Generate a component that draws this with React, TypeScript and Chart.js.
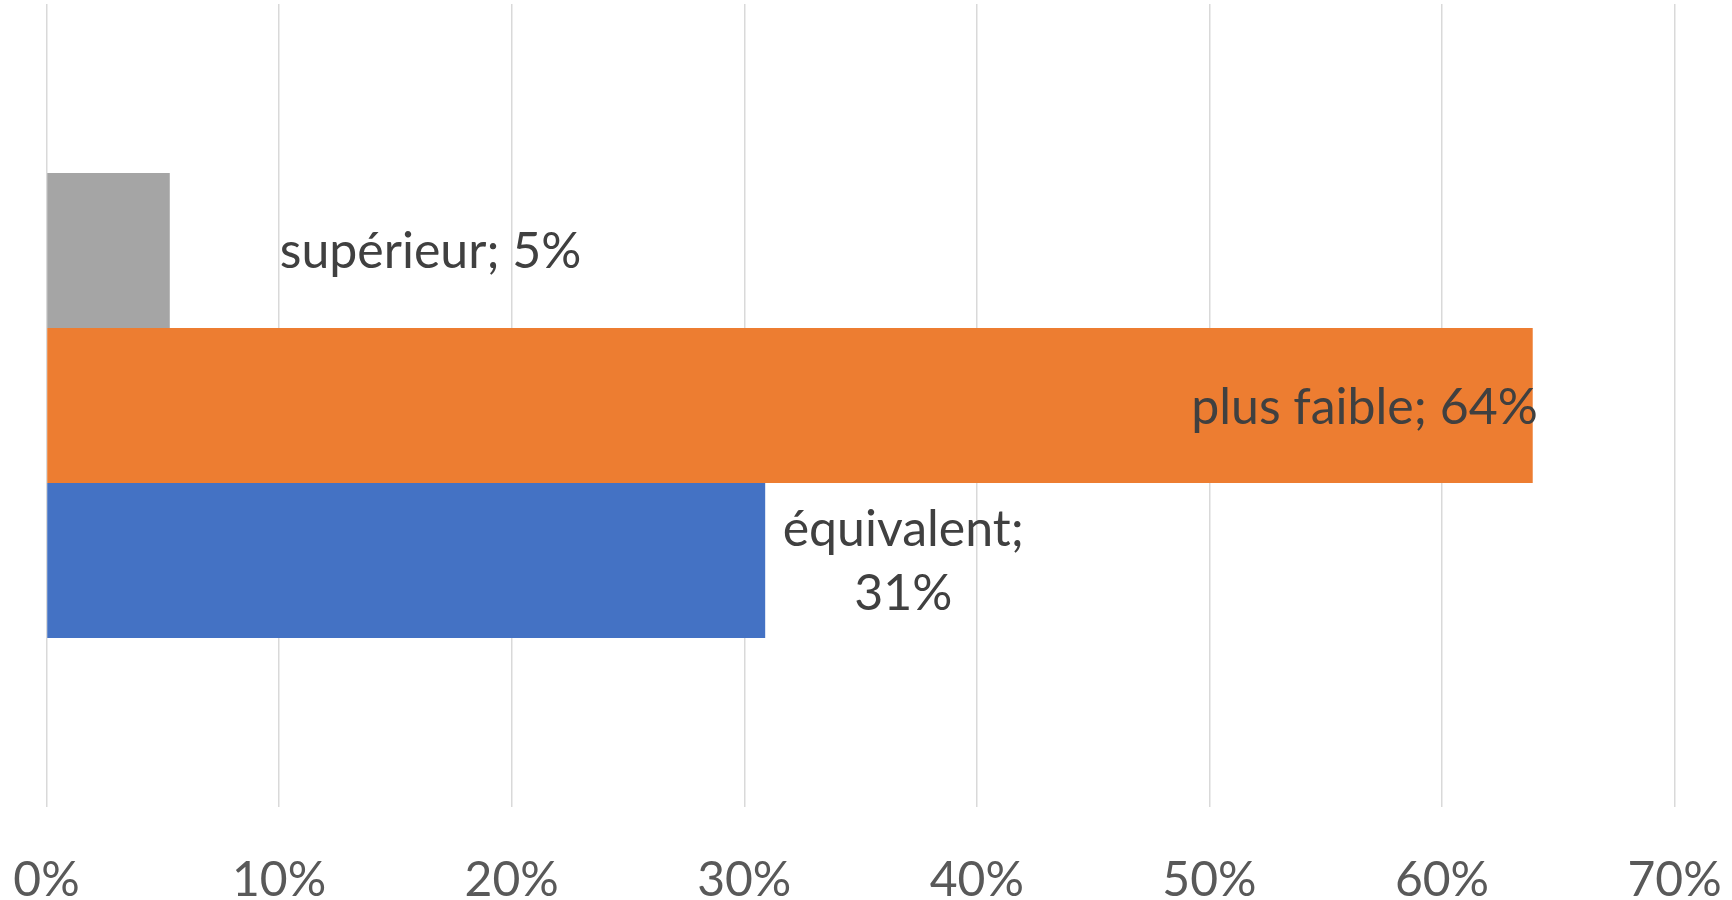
import React, { useEffect, useRef } from "react";
import { Chart, registerables } from "chart.js";

Chart.register(...registerables);

// ---- data ----
const categories: string[] = [""];
const seriesNames: string[] = ["supérieur", "plus faible", "équivalent"];
const seriesValues: number[] = [5.3, 63.9, 30.9];
const seriesColors: string[] = ["#A5A5A5", "#ED7D31", "#4472C4"];
const xTickValues: number[] = [0, 10, 20, 30, 40, 50, 60, 70];

// ---- label placement (style, not data) ----
type Placement = { align: CanvasTextAlign; dx: number; dys: number[]; split: boolean };
const placements: Placement[] = [
  { align: "left", dx: 110, dys: [17.5], split: false },
  { align: "right", dx: 5, dys: [18.5], split: false },
  { align: "center", dx: 138, dys: [-14, 50], split: true },
];

const FONT = "Lato, 'Open Sans', sans-serif";
const LABEL_SIZE = 50;
const TICK_SIZE = 48;

const labelPlugin = {
  id: "barLabels",
  afterDatasetsDraw(chart: any) {
    const ctx: CanvasRenderingContext2D = chart.ctx;
    ctx.save();
    ctx.font = `${LABEL_SIZE}px ${FONT}`;
    ctx.fillStyle = "#404040";
    ctx.textBaseline = "alphabetic";
    chart.data.datasets.forEach((ds: any, i: number) => {
      const meta = chart.getDatasetMeta(i);
      const el: any = meta.data[0];
      if (!el) return;
      const p = placements[i];
      const v = ds.data[0] as number;
      const first = `${seriesNames[i]};`;
      const second = `${Math.round(v)}%`;
      const lines = p.split ? [first, second] : [`${first} ${second}`];
      ctx.textAlign = p.align;
      lines.forEach((t, k) => {
        ctx.fillText(t, el.x + p.dx, el.y + p.dys[k]);
      });
    });
    ctx.restore();
  },
};

export default function App() {
  const ref = useRef<HTMLCanvasElement | null>(null);
  useEffect(() => {
    if (!ref.current) return;
    const chart = new Chart(ref.current, {
      type: "bar",
      data: {
        labels: categories,
        datasets: seriesNames.map((n, i) => ({
          label: n,
          data: [seriesValues[i]],
          backgroundColor: seriesColors[i],
          borderWidth: 0,
          categoryPercentage: 0.579,
          barPercentage: 1,
        })),
      },
      options: {
        indexAxis: "y",
        animation: false,
        responsive: true,
        maintainAspectRatio: false,
        layout: { padding: { left: 0, right: 0, top: 4, bottom: 0 } },
        plugins: {
          legend: { display: false },
          tooltip: { enabled: false },
          title: { display: false },
        },
        scales: {
          x: {
            type: "linear",
            min: 0,
            max: 70,
            afterBuildTicks: (scale: any) => {
              scale.ticks = xTickValues.map((v) => ({ value: v }));
            },
            afterFit: (scale: any) => {
              scale.height = 93;
              scale.paddingLeft = 46.5;
              scale.paddingRight = 57.4;
            },
            grid: { color: "#D9D9D9", lineWidth: 1.5, drawTicks: false },
            border: { display: false },
            ticks: {
              padding: 45,
              color: "#595959",
              font: { family: FONT, size: TICK_SIZE },
              callback: (v: any) => `${v}%`,
            },
          },
          y: {
            display: false,
            grid: { display: false },
          },
        },
      },
      plugins: [labelPlugin],
    } as any);
    return () => chart.destroy();
  }, []);
  return (
    <div style={{ position: "fixed", left: 0, top: 0, width: 1732, height: 900, background: "#fff" }}>
      <canvas ref={ref} />
    </div>
  );
}
